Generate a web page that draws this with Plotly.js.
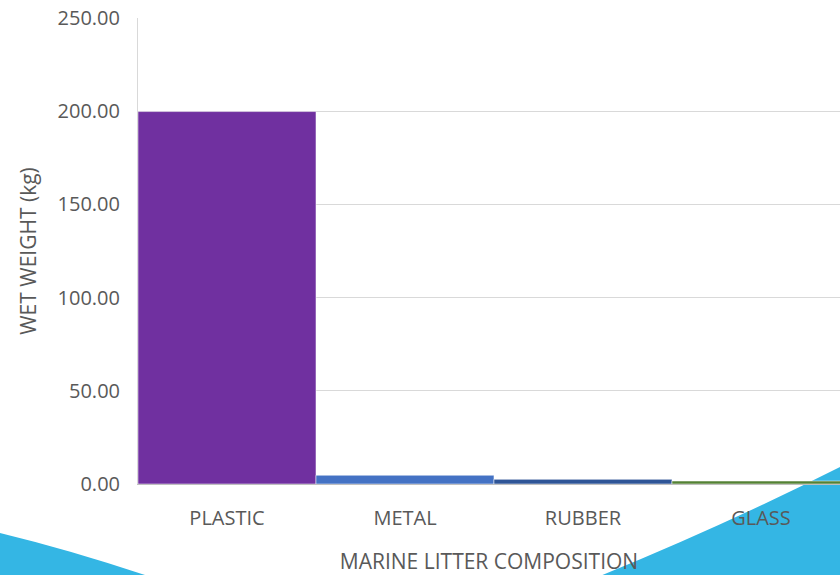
<!DOCTYPE html>
<html><head><meta charset="utf-8">
<script src="https://cdn.plot.ly/plotly-3.0.1.min.js"></script>
<style>html,body{margin:0;padding:0;background:#fff;}#chart{width:840px;height:575px;}</style>
</head><body><div id="chart"></div>
<script>
const categories = ["PLASTIC", "METAL", "RUBBER", "GLASS"];
const wetWeight = [199.8, 4.7, 2.5, 1.6];
const barColors = ["#7030A0", "#4472C4", "#2F5597", "#548235"];
const yTicks = [0, 50, 100, 150, 200, 250];

const trace = {
  type: "bar",
  x: categories,
  y: wetWeight,
  marker: { color: barColors, line: { color: "rgba(255,255,255,0.5)", width: 1 } },
  hoverinfo: "none"
};

// plot area pixels: left 138, right 840, top 18, bottom 484
const px = v => (v - 138) / 702;
const py = v => (484 - v) / 466;

const layout = {
  width: 840, height: 575,
  margin: { l: 138, r: 0, t: 18, b: 91, pad: 0 },
  paper_bgcolor: "#ffffff",
  plot_bgcolor: "rgba(0,0,0,0)",
  bargap: 0,
  showlegend: false,
  font: { family: "Open Sans, sans-serif", color: "#595959" },
  xaxis: {
    type: "category",
    range: [-0.5, 3.444],
    showline: true, linecolor: "#bfbfbf", linewidth: 1,
    showgrid: false, zeroline: false,
    ticks: "", tickfont: { size: 20, color: "#595959" },
    ticklabelstandoff: 16,
    title: { text: "MARINE LITTER COMPOSITION", font: { size: 21, color: "#595959" }, standoff: 24 }
  },
  yaxis: {
    range: [0, 250],
    tickvals: yTicks,
    tickformat: ".2f",
    showline: true, linecolor: "#d9d9d9", linewidth: 1,
    showgrid: true, gridcolor: "#d9d9d9", gridwidth: 1,
    zeroline: false,
    ticks: "", tickfont: { size: 20, color: "#595959" },
    ticklabelstandoff: 13,
    title: { text: "WET WEIGHT (kg)", font: { size: 21, color: "#595959" }, standoff: 15 }
  },
  shapes: [
    {
      type: "path", xref: "paper", yref: "paper", layer: "below",
      path: `M ${px(0)},${py(533)} Q ${px(70)},${py(550)} ${px(148)},${py(576)} L ${px(0)},${py(576)} Z`,
      fillcolor: "#34B6E4", line: { width: 0 }
    },
    {
      type: "path", xref: "paper", yref: "paper", layer: "below",
      path: `M ${px(600)},${py(576)} Q ${px(725)},${py(525)} ${px(842)},${py(466)} L ${px(842)},${py(576)} Z`,
      fillcolor: "#34B6E4", line: { width: 0 }
    }
  ]
};

Plotly.newPlot("chart", [trace], layout, { staticPlot: true, displayModeBar: false });
</script></body></html>
